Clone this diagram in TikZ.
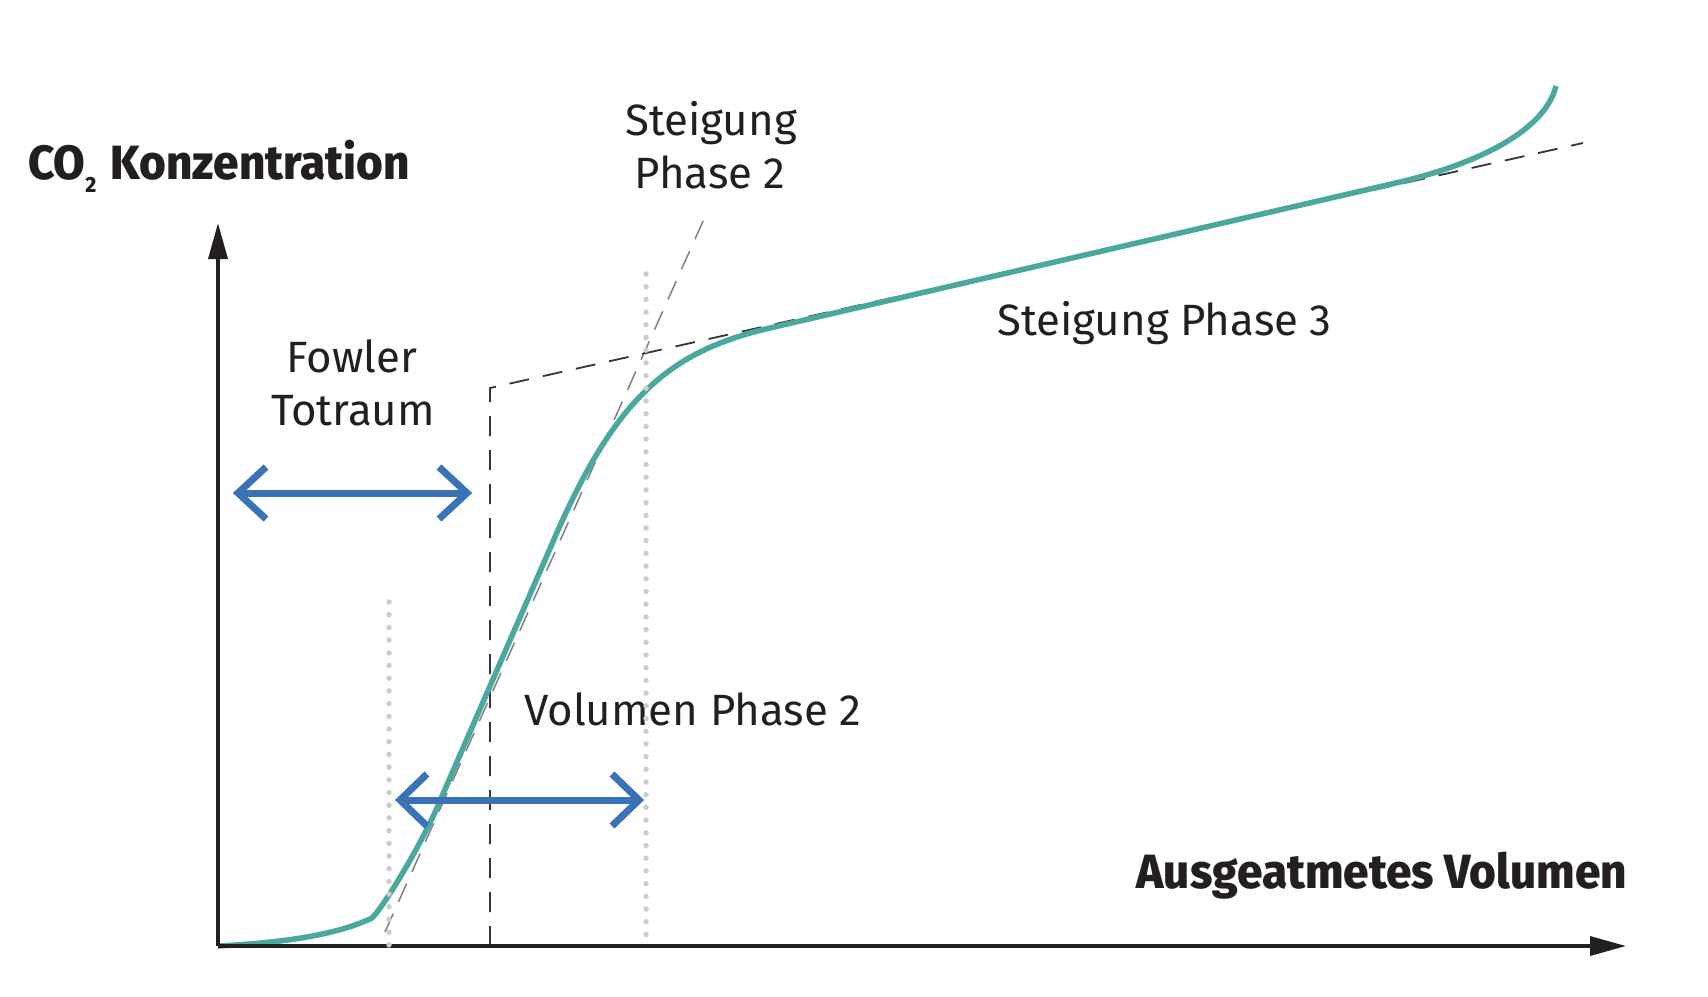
\documentclass[tikz,border=0pt]{standalone}
\usepackage{fontspec}
\setmainfont{Fira Sans}
\newfontfamily\heavyf[FakeStretch=0.955]{Fira Sans ExtraBold}
\usetikzlibrary{arrows.meta}
\definecolor{teal2}{HTML}{4BA89E}
\definecolor{blue2}{HTML}{3A72B8}
\definecolor{ink}{HTML}{231F20}
\definecolor{dotgray}{HTML}{CDCDCD}
\begin{document}
\begin{tikzpicture}[x=1pt,y=-1pt,
  lab/.style={font=\fontsize{43.8}{52}\selectfont, text=ink, inner sep=0pt},
  axlab/.style={font=\heavyf\fontsize{48}{56}\selectfont, text=ink, inner sep=0pt},
  axis/.style={line width=3.5pt, draw=ink, -{Triangle[length=36pt,width=19pt]}},
  guide/.style={line width=1.8pt, draw=ink!90, dash pattern=on 20pt off 14pt},
  slopetwo/.style={line width=1.5pt, draw=gray, dash pattern=on 20pt off 13pt},
  dotline/.style={line width=5.5pt, draw=dotgray, line cap=round, dash pattern=on 0pt off 12.7pt},
  curve/.style={line width=5.5pt, draw=teal2},
  span/.style={line width=7pt, draw=blue2},
  chev/.style={line width=7pt, draw=blue2, line join=miter}
]
\useasboundingbox (0,0) rectangle (1708,996);

% coordinates
\coordinate (O) at (218,946);
\coordinate (Ytip) at (218,223);
\coordinate (Xtip) at (1626,946);
\coordinate (dv0) at (490,946);
\coordinate (dv1) at (490,388);
\coordinate (d3end) at (1583,143);
\coordinate (s2a) at (385,932);
\coordinate (s2b) at (704,219);
\coordinate (dl0) at (389,602);
\coordinate (dl1) at (389,946);
\coordinate (dr0) at (646,274);
\coordinate (dr1) at (646,946);

% slope lines
\draw[slopetwo] (s2a) -- (s2b);
\draw[guide] (dv0) -- (dv1) -- (d3end);

% CO2 curve
\draw[curve] (O) .. controls (300,942) and (345,931) .. (372,918)
  .. controls (386,904) and (423,840) .. (436,810)
  -- (555,537)
  .. controls (616,397) and (670,351) .. (770,328)
  -- (1400,182)
  .. controls (1480,163) and (1545,130) .. (1556,86);

% blue double arrows
\coordinate (f1) at (238,493);
\coordinate (f2) at (467,493);
\draw[span] (f1) -- (f2);
\draw[chev] ([shift={(28,-26)}]f1) -- (f1) -- ([shift={(28,26)}]f1);
\draw[chev] ([shift={(-28,-26)}]f2) -- (f2) -- ([shift={(-28,26)}]f2);

\coordinate (v1) at (400,800);
\coordinate (v2) at (639,800);
\draw[span] (v1) -- (v2);
\draw[chev] ([shift={(27,-26)}]v1) -- (v1) -- ([shift={(27,26)}]v1);
\draw[chev] ([shift={(-27,-26)}]v2) -- (v2) -- ([shift={(-27,26)}]v2);

% axes
\draw[axis] (O) -- (Ytip);
\draw[axis] (O) -- (Xtip);

% labels
\node[lab, anchor=base] (st2a) at (711,135) {Steigung};
\node[lab, anchor=base] (st2b) at (710,188) {Phase 2};
\node[lab, anchor=base] (fow) at (352,372) {Fowler};
\node[lab, anchor=base] (tot) at (353,425) {Totraum};
\node[lab, anchor=base west] (st3) at (997,335) {Steigung Phase 3};
\node[lab, anchor=base west] (vol) at (524,725) {Volumen Phase 2};
\node[axlab, anchor=base west] (ylab) at (28,179) {CO\raisebox{-13pt}{\fontsize{22}{22}\selectfont 2}\hspace{4pt} Konzentration};
\node[axlab, anchor=base east] (xlab) at (1627,888) {Ausgeatmetes Volumen};

% dotted markers
\draw[dotline] (dl0) -- (dl1);
\draw[dotline] (dr0) -- (dr1);
\end{tikzpicture}
\end{document}
